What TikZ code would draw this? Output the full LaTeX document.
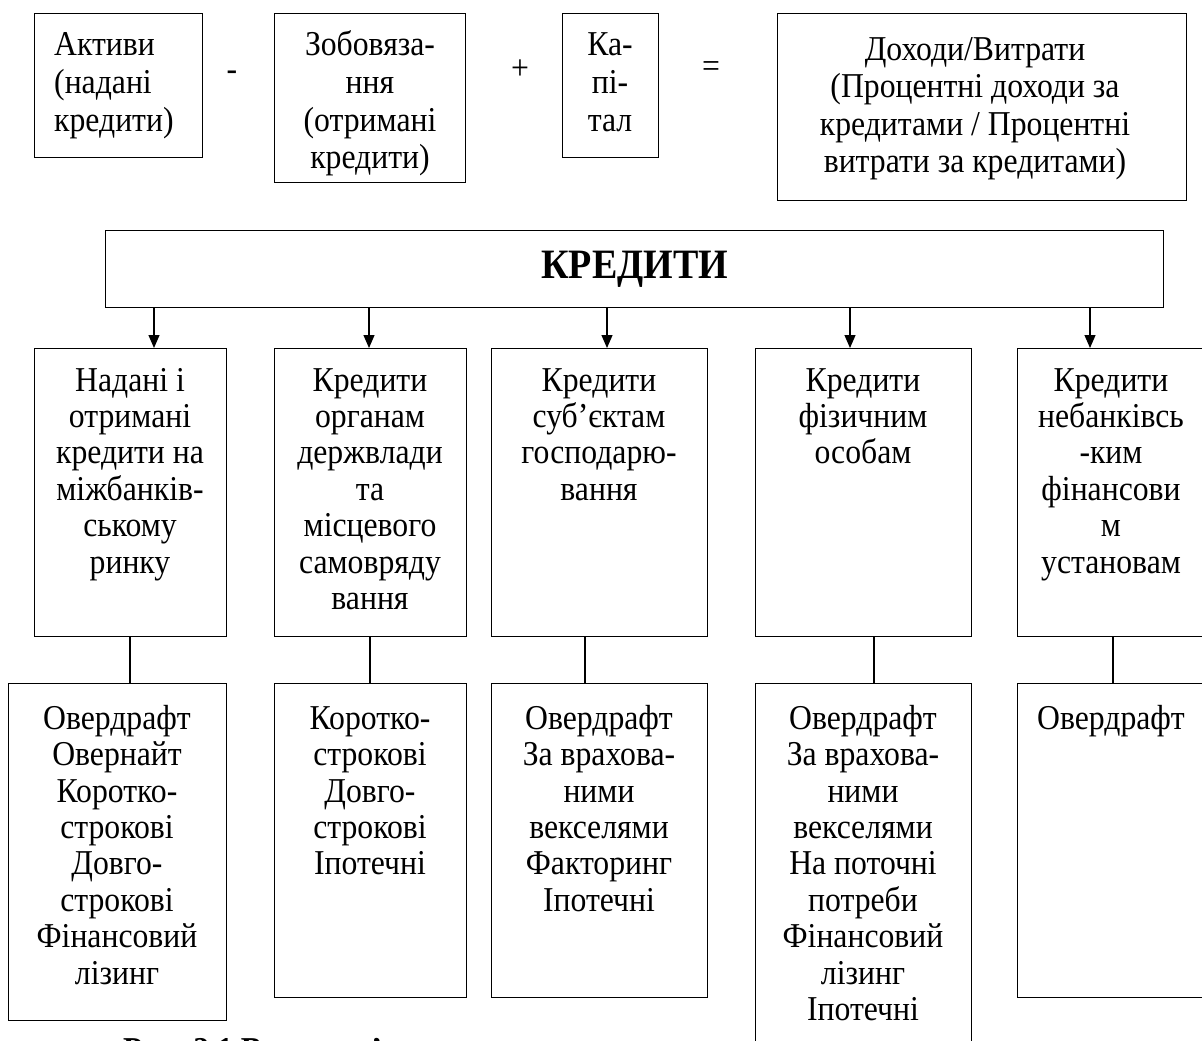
\documentclass[tikz,border=0pt]{standalone}
\usepackage{fontspec}
\usepackage{graphicx}
\setmainfont{Liberation Serif}
\usetikzlibrary{arrows.meta}
% glyphs of the reference are slightly taller than wide: stretch by 1.1
\newcommand\myfs{\fontsize{31.7}{33.18}\selectfont}
\newcommand\topfs{\fontsize{31.7}{34.1}\selectfont}
\newcommand\clines[1]{\scalebox{1}[1.1]{\begin{tabular}[t]{@{}c@{}}#1\end{tabular}}}
\newcommand\llines[1]{\scalebox{1}[1.1]{\begin{tabular}[t]{@{}l@{}}#1\end{tabular}}}
\newcommand\oneline[1]{\scalebox{1}[1.1]{#1}}
\begin{document}
\begin{tikzpicture}[x=1pt,y=-1pt,
 box/.style={draw, line width=1.2pt, inner sep=0pt, anchor=north west},
 txt/.style={font=\myfs, inner sep=0pt, anchor=base},
 ttxt/.style={font=\topfs, inner sep=0pt, anchor=base},
 sym/.style={font=\topfs, inner sep=0pt},
 arr/.style={line width=1.2pt, -{Triangle[length=13pt,width=11pt]}},
 conn/.style={line width=1.2pt}]
\useasboundingbox[fill=white] (0,0) rectangle (1202,1041);

% top row
\node[box, minimum width=168pt, minimum height=144pt] (t1) at (34,13) {};
\node[ttxt, anchor=base west] (t1t) at (54,56) {\llines{Активи\\(надані\\кредити)}};
\node[sym] (minus) at (232,76) {\oneline{-}};
\node[box, minimum width=191pt, minimum height=169pt] (t2) at (274,13) {};
\node[ttxt] (t2t) at (370,56) {\clines{Зобовяза-\\ння\\(отримані\\кредити)}};
\node[sym] (plus) at (520,70) {\oneline{+}};
\node[box, minimum width=96pt, minimum height=144pt] (t3) at (562,13) {};
\node[ttxt] (t3t) at (610,56) {\clines{Ка-\\пі-\\тал}};
\node[sym] (eq) at (711,70) {\oneline{=}};
\node[box, minimum width=409pt, minimum height=187pt] (t4) at (777,13) {};
\node[ttxt] (t4t) at (975,60) {\clines{Доходи/Витрати\\(Процентні доходи за\\кредитами / Процентні\\витрати за кредитами)}};

% main box
\node[box, minimum width=1058pt, minimum height=77pt] (kr) at (105,230) {};
\node[font=\bfseries\fontsize{38}{40}\selectfont, inner sep=0pt] (krt) at (kr.center) {\oneline{КРЕДИТИ}};

% middle row
\node[box, minimum width=192pt, minimum height=288pt] (mA) at (34,348) {};
\node[box, minimum width=192pt, minimum height=288pt] (mB) at (274,348) {};
\node[box, minimum width=216pt, minimum height=288pt] (mC) at (491,348) {};
\node[box, minimum width=216pt, minimum height=288pt] (mD) at (755,348) {};
\node[box, minimum width=188pt, minimum height=288pt] (mE) at (1017,348) {};
\node[txt] (mAt) at (130,391) {\clines{Надані і\\отримані\\кредити на\\міжбанків-\\ському\\ринку}};
\node[txt] (mBt) at (370,391) {\clines{Кредити\\органам\\держвлади\\та\\місцевого\\самовряду\\вання}};
\node[txt] (mCt) at (599,391) {\clines{Кредити\\суб’єктам\\господарю-\\вання}};
\node[txt] (mDt) at (863,391) {\clines{Кредити\\фізичним\\особам}};
\node[txt] (mEt) at (1111,391) {\clines{Кредити\\небанківсь\\-ким\\фінансови\\м\\установам}};

% bottom row
\node[box, minimum width=218pt, minimum height=337pt] (bA) at (8,683) {};
\node[box, minimum width=192pt, minimum height=314pt] (bB) at (274,683) {};
\node[box, minimum width=216pt, minimum height=314pt] (bC) at (491,683) {};
\node[box, minimum width=216pt, minimum height=390pt] (bD) at (755,683) {};
\node[box, minimum width=188pt, minimum height=314pt] (bE) at (1017,683) {};
\node[txt] (bAt) at (117,729) {\clines{Овердрафт\\Овернайт\\Коротко-\\строкові\\Довго-\\строкові\\Фінансовий\\лізинг}};
\node[txt] (bBt) at (370,729) {\clines{Коротко-\\строкові\\Довго-\\строкові\\Іпотечні}};
\node[txt] (bCt) at (599,729) {\clines{Овердрафт\\За врахова-\\ними\\векселями\\Факторинг\\Іпотечні}};
\node[txt] (bDt) at (863,729) {\clines{Овердрафт\\За врахова-\\ними\\векселями\\На поточні\\потреби\\Фінансовий\\лізинг\\Іпотечні}};
\node[txt] (bEt) at (1111,729) {\oneline{Овердрафт}};

% arrows
\coordinate (xa1) at (154,0);
\coordinate (xa2) at (369,0);
\coordinate (xa3) at (607,0);
\coordinate (xa4) at (850,0);
\coordinate (xa5) at (1090,0);
\draw[arr] (xa1 |- kr.south) -- (xa1 |- mA.north);
\draw[arr] (xa2 |- kr.south) -- (xa2 |- mB.north);
\draw[arr] (xa3 |- kr.south) -- (xa3 |- mC.north);
\draw[arr] (xa4 |- kr.south) -- (xa4 |- mD.north);
\draw[arr] (xa5 |- kr.south) -- (xa5 |- mE.north);

% connectors
\coordinate (xc1) at (130,0);
\coordinate (xc2) at (370,0);
\coordinate (xc3) at (585,0);
\coordinate (xc4) at (874,0);
\coordinate (xc5) at (1113,0);
\draw[conn] (xc1 |- mA.south) -- (xc1 |- bA.north);
\draw[conn] (xc2 |- mB.south) -- (xc2 |- bB.north);
\draw[conn] (xc3 |- mC.south) -- (xc3 |- bC.north);
\draw[conn] (xc4 |- mD.south) -- (xc4 |- bD.north);
\draw[conn] (xc5 |- mE.south) -- (xc5 |- bE.north);

% caption (cut by the lower edge)
\node[font=\bfseries\myfs, inner sep=0pt, anchor=base west] (cap) at (123,1061) {\oneline{Рис. 2.1 Взаємозв’язок}};
\end{tikzpicture}
\end{document}
